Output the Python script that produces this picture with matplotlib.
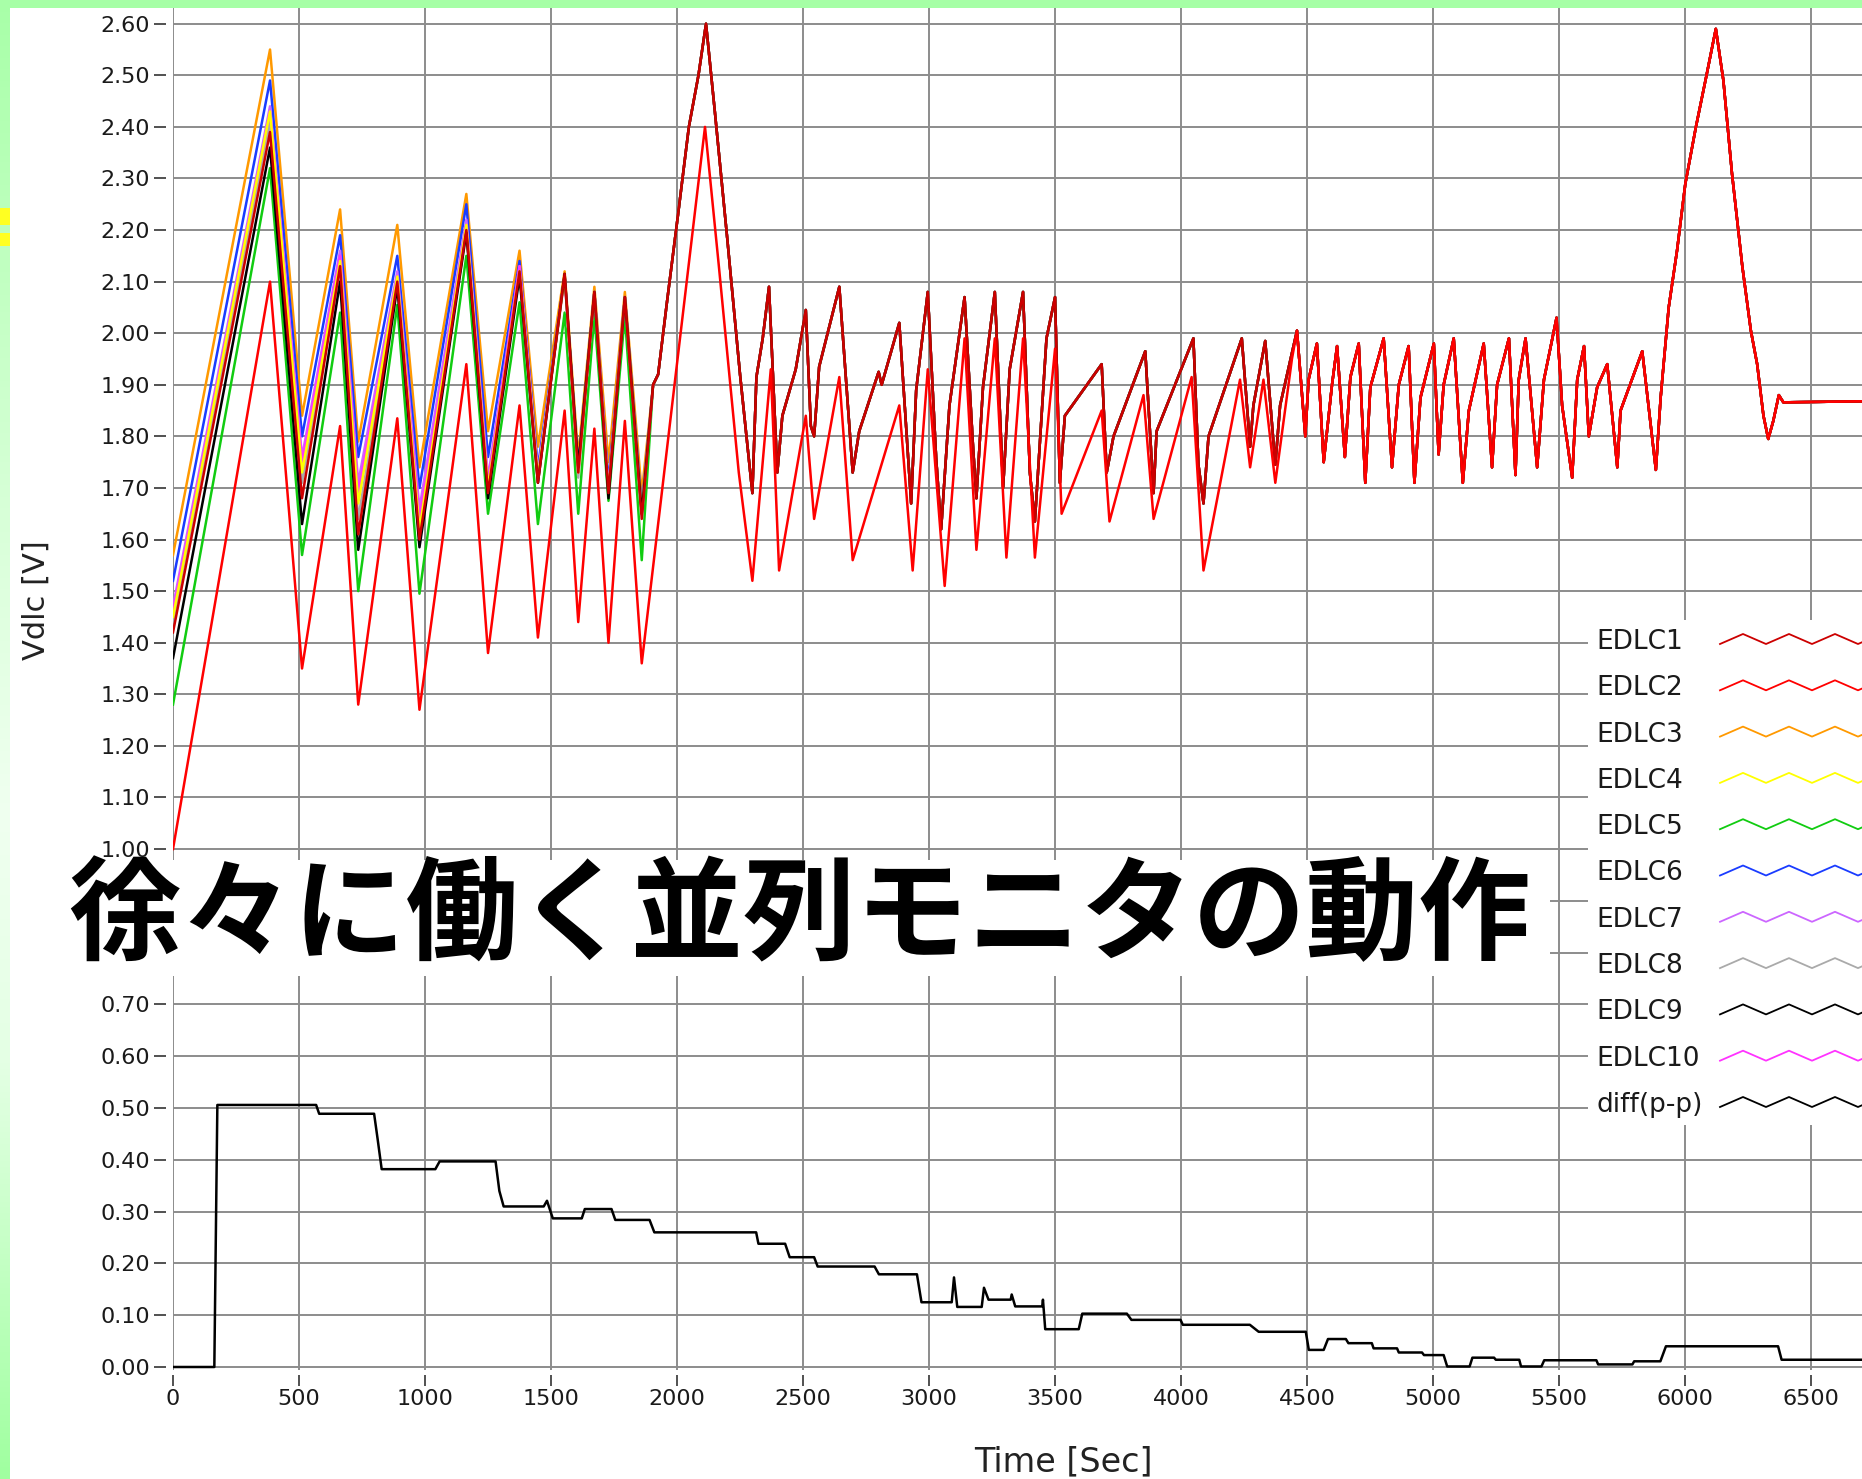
import numpy as np
import matplotlib
matplotlib.use("Agg")
import matplotlib.pyplot as plt
from matplotlib.patches import Rectangle
from matplotlib.lines import Line2D
from matplotlib.colors import LinearSegmentedColormap
from matplotlib.ticker import FormatStrFormatter

# --- data -----------------------------------------------------------------
names = ['EDLC1', 'EDLC2', 'EDLC3', 'EDLC4', 'EDLC5', 'EDLC6', 'EDLC7',
         'EDLC8', 'EDLC9', 'EDLC10', 'diff(p-p)']
colors = ['#cc0000', '#ff0000', '#ff9900', '#ffff00', '#11cc11', '#1a3cff',
          '#cc66ff', '#aaaaaa', '#000000', '#ff33ff', '#000000']

# first cycles: every cell peaks / bottoms out at the same moments
t_early = [0, 385, 512, 663, 735, 890, 978, 1164, 1250, 1375, 1448, 1554,
           1608, 1672, 1728, 1793, 1860]
edlc1_early = [1.42, 2.39, 1.68, 2.13, 1.61, 2.10, 1.60, 2.20, 1.69, 2.12, 1.71, 2.115, 1.73, 2.08, 1.69, 2.07, 1.64]
edlc2_early = [1.00, 2.10, 1.35, 1.82, 1.28, 1.835, 1.27, 1.94, 1.38, 1.86, 1.41, 1.85, 1.44, 1.815, 1.40, 1.83, 1.36]
edlc3_early = [1.57, 2.55, 1.84, 2.24, 1.79, 2.21, 1.74, 2.27, 1.81, 2.16, 1.78, 2.12, 1.76, 2.09, 1.75, 2.08, 1.69]
edlc4_early = [1.45, 2.43, 1.73, 2.14, 1.67, 2.11, 1.62, 2.21, 1.70, 2.12, 1.72, 2.11, 1.73, 2.08, 1.69, 2.07, 1.65]
edlc5_early = [1.28, 2.32, 1.57, 2.04, 1.50, 2.055, 1.495, 2.15, 1.65, 2.06, 1.63, 2.04, 1.65, 2.035, 1.675, 2.035, 1.56]
edlc6_early = [1.52, 2.49, 1.80, 2.19, 1.76, 2.15, 1.70, 2.25, 1.76, 2.14, 1.74, 2.11, 1.74, 2.08, 1.71, 2.07, 1.66]
edlc7_early = [1.47, 2.44, 1.76, 2.16, 1.71, 2.12, 1.66, 2.22, 1.72, 2.13, 1.73, 2.11, 1.73, 2.08, 1.70, 2.07, 1.65]
edlc8_early = [1.44, 2.41, 1.71, 2.12, 1.64, 2.10, 1.61, 2.20, 1.69, 2.12, 1.71, 2.11, 1.72, 2.08, 1.69, 2.07, 1.65]
edlc9_early = [1.37, 2.36, 1.63, 2.10, 1.58, 2.09, 1.585, 2.195, 1.68, 2.11, 1.71, 2.115, 1.74, 2.08, 1.68, 2.07, 1.65]
edlc10_early = [1.46, 2.43, 1.75, 2.15, 1.69, 2.11, 1.64, 2.21, 1.71, 2.13, 1.72, 2.11, 1.73, 2.08, 1.69, 2.07, 1.65]

# after ~1860 s the cells run together
bundle_t = [1905, 1925, 1960, 2004, 2047, 2085, 2115, 2150, 2200, 2250,
            2299, 2315, 2340, 2365, 2398, 2418, 2471, 2511, 2531, 2544,
            2564, 2644, 2697, 2723, 2800, 2812, 2882, 2909, 2929, 2949,
            2995, 3028, 3048, 3081, 3141, 3174, 3188, 3214, 3261, 3294,
            3320, 3373, 3400, 3420, 3466, 3500, 3519, 3539, 3685, 3705,
            3732, 3858, 3891, 3903, 4049, 4069, 4089, 4109, 4241, 4274,
            4287, 4334, 4374, 4393, 4460, 4493, 4506, 4539, 4566, 4599,
            4619, 4650, 4672, 4705, 4731, 4751, 4804, 4837, 4864, 4903,
            4926, 4950, 5003, 5022, 5042, 5082, 5118, 5142, 5201, 5234,
            5254, 5301, 5327, 5340, 5367, 5413, 5440, 5490, 5512, 5552,
            5572, 5599, 5618, 5651, 5691, 5731, 5744, 5830, 5863, 5884,
            5903, 5935, 5968, 6001, 6043, 6085, 6122, 6152, 6186, 6227,
            6261, 6286, 6311, 6330, 6350, 6372, 6390, 6702]
bundle_v = [1.90, 1.92, 2.06, 2.23, 2.40, 2.50, 2.60, 2.43, 2.18, 1.92,
            1.69, 1.915, 1.99, 2.09, 1.73, 1.84, 1.93, 2.045, 1.82, 1.80,
            1.935, 2.09, 1.73, 1.81, 1.925, 1.90, 2.02, 1.82, 1.67, 1.89,
            2.08, 1.76, 1.62, 1.86, 2.07, 1.785, 1.68, 1.895, 2.08, 1.70,
            1.93, 2.08, 1.73, 1.635, 1.99, 2.07, 1.71, 1.84, 1.94, 1.73,
            1.80, 1.965, 1.69, 1.81, 1.99, 1.745, 1.67, 1.80, 1.99, 1.78,
            1.86, 1.985, 1.745, 1.86, 2.005, 1.80, 1.91, 1.98, 1.75, 1.90,
            1.975, 1.76, 1.915, 1.98, 1.71, 1.895, 1.99, 1.74, 1.90, 1.975,
            1.71, 1.875, 1.98, 1.765, 1.90, 1.99, 1.71, 1.85, 1.98, 1.74,
            1.90, 1.99, 1.725, 1.91, 1.99, 1.74, 1.91, 2.03, 1.86, 1.72,
            1.91, 1.975, 1.80, 1.895, 1.94, 1.74, 1.85, 1.965, 1.825, 1.735,
            1.875, 2.05, 2.16, 2.29, 2.40, 2.50, 2.59, 2.49, 2.31, 2.13,
            2.005, 1.94, 1.84, 1.795, 1.83, 1.88, 1.866, 1.868]

# EDLC2 lags below the others until ~4450 s
edlc2_mid_t = [1990, 2111, 2166, 2245, 2299, 2372, 2405, 2511, 2544, 2644,
               2697, 2882, 2935, 2995, 3062, 3141, 3188, 3261, 3307, 3373,
               3420, 3500, 3526, 3685, 3716, 3851, 3891, 4042, 4089, 4234,
               4274, 4327, 4374, 4440]
edlc2_mid_v = [1.90, 2.40, 2.13, 1.73, 1.52, 1.93, 1.54, 1.84, 1.64, 1.915,
               1.56, 1.86, 1.54, 1.93, 1.51, 1.99, 1.58, 1.99, 1.565, 1.99,
               1.565, 1.97, 1.65, 1.85, 1.635, 1.88, 1.64, 1.915, 1.54, 1.91,
               1.74, 1.91, 1.71, 1.95]

# peak-to-peak spread between cells
diff_t = [0, 164, 170, 176, 568, 580, 798, 812, 828, 1041,
          1058, 1280, 1295, 1312, 1471, 1484, 1507, 1622, 1634, 1740,
          1755, 1891, 1910, 2314, 2323, 2429, 2447, 2544, 2558, 2784,
          2801, 2952, 2970, 3090, 3099, 3112, 3209, 3218, 3236, 3324,
          3328, 3342, 3449, 3452, 3461, 3594, 3608, 3785, 3803, 3998,
          4007, 4273, 4308, 4495, 4507, 4566, 4583, 4654, 4664, 4757,
          4764, 4857, 4864, 4956, 4964, 5042, 5056, 5145, 5156, 5242,
          5249, 5342, 5349, 5430, 5441, 5648, 5655, 5791, 5798, 5902,
          5924, 6369, 6383, 6702]
diff_v = [0, 0, 0.254, 0.506, 0.506, 0.489, 0.489, 0.44, 0.382, 0.382,
          0.397, 0.397, 0.34, 0.31, 0.31, 0.321, 0.287, 0.287, 0.305, 0.305,
          0.284, 0.284, 0.26, 0.26, 0.238, 0.238, 0.212, 0.212, 0.194, 0.194,
          0.179, 0.179, 0.125, 0.125, 0.173, 0.116, 0.116, 0.153, 0.13, 0.13,
          0.14, 0.117, 0.117, 0.13, 0.073, 0.073, 0.103, 0.103, 0.091, 0.091,
          0.0815, 0.0815, 0.068, 0.068, 0.033, 0.033, 0.054, 0.054, 0.046, 0.046,
          0.036, 0.036, 0.028, 0.028, 0.023, 0.023, 0.001, 0.001, 0.018, 0.018,
          0.014, 0.014, 0.001, 0.001, 0.013, 0.013, 0.005, 0.005, 0.011, 0.011,
          0.040, 0.040, 0.014, 0.014]

# assemble full series
early = [edlc1_early, edlc2_early, edlc3_early, edlc4_early, edlc5_early,
         edlc6_early, edlc7_early, edlc8_early, edlc9_early, edlc10_early]
series = []
for i, e in enumerate(early):
    if i == 1:
        tail = [(t, v) for t, v in zip(bundle_t, bundle_v) if t > edlc2_mid_t[-1]]
        t = t_early + edlc2_mid_t + [p[0] for p in tail]
        v = e + edlc2_mid_v + [p[1] for p in tail]
    else:
        t = t_early + bundle_t
        v = e + bundle_v
    series.append((t, v))

# --- figure ---------------------------------------------------------------
W, H = 1862, 1479
fig = plt.figure(figsize=(W / 100, H / 100), dpi=100)
fig.patch.set_facecolor('white')


def fx(px):
    return px / W


def fy(py):
    return 1 - py / H


ax1 = fig.add_axes([fx(173), fy(860), 1 - fx(173), (860 - 8) / H])
ax2 = fig.add_axes([fx(173), fy(1370), 1 - fx(173), (1370 - 860) / H])

for ax in (ax1, ax2):
    ax.set_xlim(0, 6702)
    ax.set_xticks(np.arange(0, 7000, 500))
    ax.grid(True, which='both', color='#8c8c8c', lw=1.4)
    ax.set_axisbelow(True)
    for s in ax.spines.values():
        s.set_visible(False)
    ax.spines['left'].set_position(('outward', 5))
    ax.tick_params(axis='y', length=8.5, width=1.2, color='#333333', pad=3,
                   labelsize=16, labelcolor='#1a1a1a')
    ax.tick_params(axis='y', which='minor', length=0)
    ax.yaxis.set_major_formatter(FormatStrFormatter('%.2f'))

ax1.set_ylim(0.9787, 2.6305)
ax1.set_yticks(np.round(np.arange(1.0, 2.61, 0.1), 2))
ax1.tick_params(axis='x', bottom=False, labelbottom=False)

ax2.set_ylim(-0.0058, 0.979)
ax2.set_yticks(np.round(np.arange(0.0, 0.71, 0.1), 2))
ax2.set_yticks([0.8, 0.9], minor=True)   # gridlines only, labels sit under the caption
ax2.spines['bottom'].set_position(('outward', 3.5))
ax2.tick_params(axis='x', length=8, width=1.2, color='#333333', pad=2,
                labelsize=16, labelcolor='#1a1a1a')

# cell voltages, low-index cells on top
for i in [7, 4, 2, 5, 6, 9, 3, 8, 0, 1]:
    t, v = series[i]
    ax1.plot(t, v, color=colors[i], lw=1.8)

ax2.plot(diff_t, diff_v, color=colors[10], lw=1.8)

# axis titles
fig.text(fx(36), fy(600), 'Vdlc [V]', rotation=90, ha='center', va='center',
         fontsize=22, color='#222222')
fig.text(fx(1063), fy(1478), 'Time [Sec]', ha='center', va='bottom',
         fontsize=24, color='#222222')

# caption band between the two panels
fig.add_artist(Rectangle((fx(9), fy(976)), fx(1550) - fx(9), (976 - 860) / H,
                         transform=fig.transFigure, fc='white', ec='none', zorder=5))
fig.text(fx(68), fy(918), '徐々に働く並列モニタの動作', ha='left', va='center',
         fontsize=81, fontweight='bold', family=['Noto Sans CJK JP', 'DejaVu Sans'],
         color='black', zorder=6)

# legend panel
fig.add_artist(Rectangle((fx(1588), fy(1125)), 1 - fx(1588), (1125 - 620) / H,
                         transform=fig.transFigure, fc='white', ec='none', zorder=5))
for i, (name, c) in enumerate(zip(names, colors)):
    yc = 642 + i * 46.3
    fig.text(fx(1596), fy(yc), name, ha='left', va='center', fontsize=19,
             color='#1a1a1a', zorder=6)
    zx = 1720 + 23 * np.arange(8)
    zy = np.where(np.arange(8) % 2 == 0, yc + 2, yc - 8)
    fig.add_artist(Line2D(fx(zx), fy(zy), transform=fig.transFigure,
                          color=c, lw=1.3, zorder=6))

# green frame
fig.add_artist(Rectangle((0, fy(8)), 1, 8 / H, transform=fig.transFigure,
                         fc='#a6ffa6', ec='none', zorder=9))
edge = fig.add_axes([0, 0, fx(10), 1])
edge.set_axis_off()
edge.set_zorder(10)
edge_cmap = LinearSegmentedColormap.from_list(
    'edge', [(0, '#a8ffa8'), (0.35, '#d8ffd8'), (0.55, '#f0fff0'),
             (0.72, '#e4ffe4'), (1, '#a0ffa0')])
edge.imshow(np.linspace(0, 1, 256)[:, None], aspect='auto', cmap=edge_cmap,
            extent=(0, 1, 0, 1))
for y0, y1 in [(208, 225), (233, 246)]:
    fig.add_artist(Rectangle((0, fy(y1)), fx(10), (y1 - y0) / H,
                             transform=fig.transFigure, fc='#ffff22', ec='none', zorder=11))

fig.savefig('out.png', dpi=100)
